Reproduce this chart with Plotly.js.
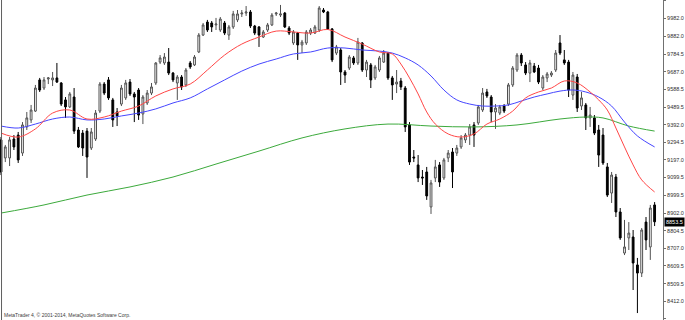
<!DOCTYPE html>
<html><head><meta charset="utf-8">
<script src="https://cdn.plot.ly/plotly-3.0.1.min.js"></script>
<style>html,body{margin:0;padding:0;background:#fff;overflow:hidden}#chart{width:685px;height:320px}</style>
</head><body><div id="chart"></div>
<script>
// Daily OHLC (price values)
const candleOpen = [9308,9208,9208,9313,9335,9235,9380,9419,9468,9641,
9596,9646,9641,9652,9624,9530,9491,9546,9363,9346,
9357,9263,9313,9468,9618,9641,9530,9463,9507,9541,
9629,9563,9585,9452,9513,9568,9624,9740,9735,9740,
9679,9624,9657,9613,9735,9724,9796,9890,9962,9957,
9946,9918,9957,9890,9935,9974,10007,10012,10018,9940,
9935,9879,9918,9946,10007,10001,10012,9929,9846,9901,
9835,9846,9901,9901,9918,10029,10018,9924,9790,9807,
9685,9707,9763,9735,9846,9696,9724,9652,9696,9740,
9790,9652,9618,9635,9596,9391,9213,9169,9102,9130,
8936,9097,9169,9097,9208,9241,9235,9269,9308,9335,
9391,9402,9474,9574,9546,9463,9457,9496,9507,9613,
9696,9779,9724,9679,9718,9707,9596,9652,9668,9696,
9846,9752,9740,9557,9657,9496,9502,9430,9430,9363,
9335,9158,9013,9102,8908,8680,8764,8769,8614,8569,
8852,8714,8947];
const candleHigh = [9324,9280,9324,9335,9352,9407,9463,9502,9613,9652,
9657,9657,9685,9735,9629,9546,9574,9596,9380,9363,
9374,9374,9474,9629,9629,9657,9541,9485,9613,9641,
9646,9574,9596,9557,9585,9624,9740,9779,9790,9818,
9685,9668,9668,9707,9746,9779,9901,9957,9974,9968,
9985,9990,9968,9946,10024,10029,10029,10051,10029,9946,
9940,9918,9957,10012,10018,10057,10018,9940,9918,9907,
9863,9918,9929,9946,10051,10040,10024,9929,9835,9818,
9696,9779,9774,9874,9851,9752,9735,9724,9774,9807,
9796,9663,9696,9652,9607,9407,9252,9224,9141,9158,
9086,9197,9185,9208,9252,9263,9280,9335,9346,9396,
9407,9502,9596,9591,9557,9507,9502,9507,9624,9718,
9790,9790,9740,9752,9735,9724,9668,9685,9690,9807,
9890,9807,9752,9685,9674,9574,9513,9491,9446,9391,
9374,9180,9130,9119,8930,8864,8852,8808,8653,8819,
8880,8947,8963];
const candleLow = [9113,9185,9163,9252,9180,9219,9363,9402,9463,9574,
9585,9618,9607,9624,9496,9430,9485,9341,9263,9219,
9097,9252,9302,9457,9557,9530,9380,9385,9496,9530,
9552,9407,9419,9396,9502,9557,9613,9729,9724,9668,
9629,9530,9585,9602,9702,9718,9790,9885,9907,9907,
9918,9907,9890,9863,9924,9962,9990,9996,9929,9890,
9824,9874,9907,9940,9996,9990,9929,9890,9835,9752,
9790,9835,9890,9896,9907,10012,9918,9740,9779,9613,
9624,9696,9724,9724,9685,9657,9596,9641,9685,9735,
9641,9530,9568,9585,9352,9169,9185,9074,9058,8975,
8897,9074,9047,9086,9185,9041,9219,9258,9291,9280,
9269,9391,9463,9541,9407,9369,9446,9457,9496,9602,
9685,9718,9668,9629,9679,9618,9585,9629,9657,9685,
9779,9724,9546,9530,9463,9474,9363,9380,9335,9158,
9169,8991,8958,8880,8753,8669,8697,8475,8347,8547,
8697,8642,8830];
const candleClose = [9130,9269,9308,9269,9197,9391,9430,9474,9596,9585,
9641,9652,9652,9629,9507,9491,9563,9357,9269,9263,
9213,9352,9457,9618,9568,9541,9419,9441,9596,9624,
9563,9546,9446,9546,9568,9602,9735,9763,9768,9679,
9641,9657,9602,9696,9713,9768,9890,9946,9918,9935,
9951,9979,9901,9935,10007,10007,10012,10018,9940,9901,
9890,9907,9946,10001,10012,10007,9935,9901,9907,9835,
9851,9907,9918,9935,10040,10018,9924,9752,9824,9685,
9668,9768,9735,9851,9696,9740,9641,9713,9763,9790,
9652,9613,9629,9602,9380,9185,9208,9097,9097,8997,
9069,9158,9074,9197,9235,9130,9263,9319,9335,9380,
9335,9491,9568,9552,9463,9485,9491,9468,9613,9707,
9779,9735,9679,9735,9685,9629,9657,9674,9679,9790,
9790,9735,9585,9668,9485,9541,9430,9446,9346,9224,
9180,9002,9113,8908,8764,8714,8791,8625,8569,8808,
8753,8930,8853.5];

// Moving averages (sampled at bar positions)
const maFastIdx = [0,4,8,12,16,20,24,28,32,36,40,44,48,52,56,60,64,68,72,76,80,84,88,91,93,95,97,99,101,104,107,110,113,116,119,122,125,128,131,134,137,139,141,143,145,147,149,152];
const maFastVal = [9346,9324,9369,9457,9474,9424,9435,9468,9496,9552,9591,9618,9696,9779,9840,9879,9912,9907,9901,9921,9879,9840,9796,9785,9729,9652,9563,9463,9396,9341,9324,9341,9396,9424,9468,9541,9574,9596,9635,9624,9574,9530,9474,9374,9269,9169,9086,9019];
const maMidIdx = [0,4,8,12,16,20,24,28,32,36,40,44,48,52,56,60,64,68,72,76,80,84,88,91,94,97,100,103,106,109,112,115,118,121,124,127,130,133,136,139,142,145,148,152];
const maMidVal = [9385,9374,9396,9424,9435,9419,9424,9441,9457,9480,9513,9541,9591,9641,9690,9729,9757,9785,9796,9818,9818,9807,9801,9790,9763,9724,9663,9585,9530,9507,9496,9496,9502,9524,9546,9563,9579,9585,9574,9546,9496,9407,9330,9269];
const maSlowIdx = [0,10,20,30,40,50,60,70,80,90,100,110,120,130,136,140,146,152];
const maSlowVal = [8902,8947,9002,9047,9102,9174,9246,9319,9369,9396,9385,9380,9391,9424,9435,9430,9385,9357];

// Price scale labels
const priceTicks = [10079.5,9982.0,9882.0,9784.5,9687.0,9588.5,9489.5,9392.0,9294.5,9197.0,9099.5,8999.5,8902.0,8804.5,8707.0,8609.5,8509.5,8412.0,8314.5];
const priceTickText = priceTicks.map(v => v.toFixed(1));
const footerText = 'MetaTrader 4, © 2001-2014, MetaQuotes Software Corp.';

const barIndex = candleOpen.map((_, i) => i);
const lastPrice = candleClose[candleClose.length - 1];

const traces = [
  {
    type: 'candlestick', x: barIndex,
    open: candleOpen, high: candleHigh, low: candleLow, close: candleClose,
    increasing: {line: {color: '#505050', width: 1}, fillcolor: '#ffffff'},
    decreasing: {line: {color: '#000000', width: 1}, fillcolor: '#000000'},
    whiskerwidth: 0, hoverinfo: 'skip'
  },
  {type: 'scatter', mode: 'lines', x: maSlowIdx, y: maSlowVal,
   line: {color: 'rgb(60,170,60)', width: 1, shape: 'spline', smoothing: 1}, hoverinfo: 'skip'},
  {type: 'scatter', mode: 'lines', x: maMidIdx, y: maMidVal,
   line: {color: 'rgb(70,70,255)', width: 1, shape: 'spline', smoothing: 1}, hoverinfo: 'skip'},
  {type: 'scatter', mode: 'lines', x: maFastIdx, y: maFastVal,
   line: {color: 'rgb(255,70,70)', width: 1, shape: 'spline', smoothing: 1}, hoverinfo: 'skip'}
];

const layout = {
  width: 685, height: 320,
  margin: {l: 0, r: 22, t: 0, b: 0, pad: 0},
  paper_bgcolor: '#ffffff', plot_bgcolor: '#ffffff',
  showlegend: false,
  boxgap: 0.4,
  xaxis: {
    range: [-0.2326, 153.95], showticklabels: false, showgrid: false, zeroline: false,
    showline: false, ticks: '', rangeslider: {visible: false}, fixedrange: true
  },
  yaxis: {
    side: 'right', range: [8308.5, 10084.5], automargin: false,
    tickvals: priceTicks, ticktext: priceTickText,
    showgrid: false, zeroline: false,
    showline: true, linecolor: '#707070', linewidth: 1,
    ticks: 'outside', ticklen: 2, tickcolor: '#707070', tickwidth: 1,
    tickfont: {family: 'Liberation Sans, Arial, sans-serif', size: 5.5, color: '#303030'},
    fixedrange: true
  },
  shapes: [
    {type: 'line', xref: 'paper', yref: 'paper', x0: 0.0023, x1: 0.0023, y0: 0, y1: 1,
     line: {color: '#606060', width: 1}}
  ],
  annotations: [
    {xref: 'paper', x: 1, xanchor: 'left', xshift: 1, yref: 'y', y: lastPrice, yanchor: 'middle',
     text: lastPrice.toFixed(1), showarrow: false, bgcolor: '#000000', borderpad: 1,
     font: {family: 'Liberation Sans, Arial, sans-serif', size: 5.5, color: '#ffffff'}},
    {xref: 'paper', yref: 'paper', x: 0, y: 0, xanchor: 'left', yanchor: 'bottom', xshift: 2,
     text: footerText, showarrow: false,
     font: {family: 'Liberation Sans, Arial, sans-serif', size: 5, color: '#404040'}}
  ]
};

Plotly.newPlot('chart', traces, layout, {staticPlot: true, displayModeBar: false});
</script>
</body></html>
